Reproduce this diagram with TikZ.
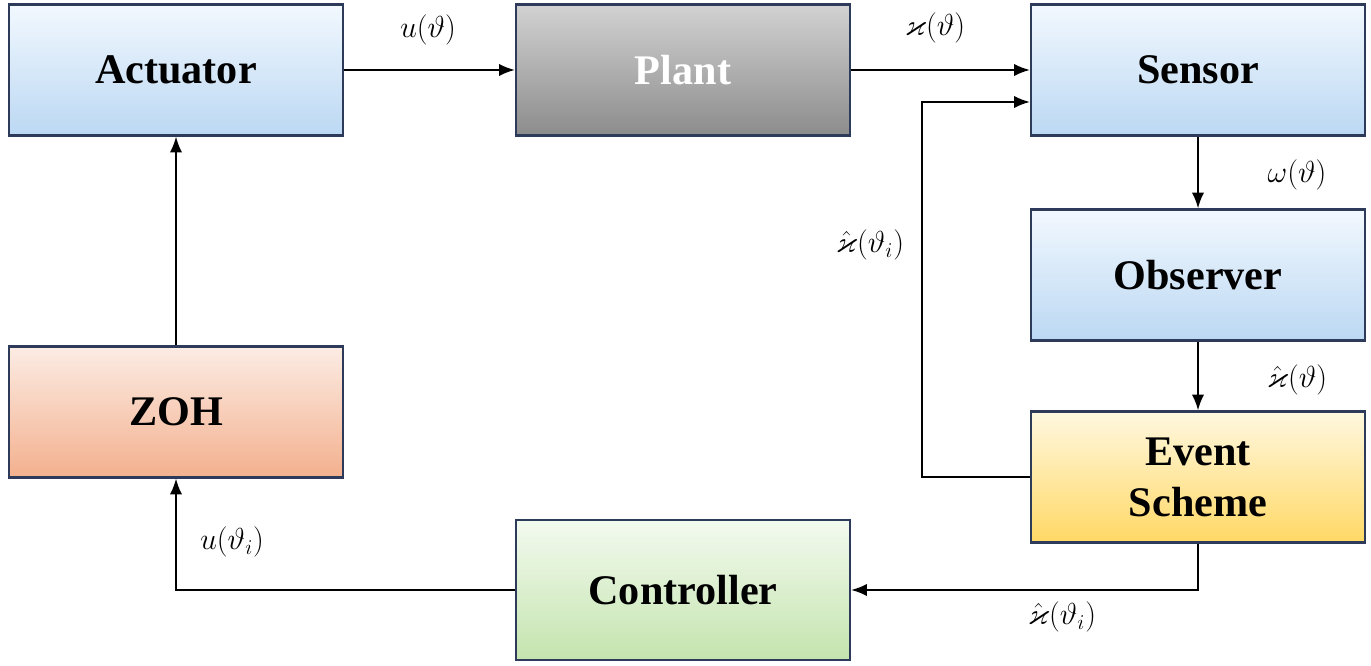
\documentclass[tikz,border=0pt]{standalone}
\usepackage{amsmath}
\usepackage{amssymb}
\usepackage{xcolor}
\usepackage{fontspec}
\setmainfont{Liberation Serif}
\usepackage{tikz}
\usetikzlibrary{positioning}
\usetikzlibrary{arrows.meta}
\usetikzlibrary{calc}

\definecolor{frame}{HTML}{2E3A59}
\definecolor{blueTop}{HTML}{F2F8FE}
\definecolor{blueBot}{HTML}{BBD8F3}
\definecolor{grayTop}{HTML}{D2D2D2}
\definecolor{grayBot}{HTML}{8C8C8C}
\definecolor{zohTop}{HTML}{FCECE4}
\definecolor{zohBot}{HTML}{F3B08E}
\definecolor{evtTop}{HTML}{FFF8E0}
\definecolor{evtBot}{HTML}{FFD865}
\definecolor{ctrlTop}{HTML}{F3FAEF}
\definecolor{ctrlBot}{HTML}{C4E4AE}

\begin{document}
\begin{tikzpicture}[
    box/.style={
        draw=frame,
        line width=1.3pt,
        minimum width=6.68cm,
        minimum height=2.62cm,
        align=center,
        font=\fontsize{24}{27}\selectfont\bfseries
    },
    bluebox/.style={box, top color=blueTop, bottom color=blueBot},
    conn/.style={
        draw=black,
        line width=1pt,
        -{Latex[length=9pt,width=7pt]}
    },
    lbl/.style={font=\fontsize{17}{19}\selectfont}
]

\useasboundingbox (0,0) rectangle (27.42,13.32);

% --- Top row
\node[bluebox] (actuator) at (3.52,11.92) {Actuator};
\node[box, top color=grayTop, bottom color=grayBot, text=white] (plant) at (13.66,11.92) {Plant};
\node[bluebox] (sensor) at (23.96,11.92) {Sensor};

% --- Right column
\node[bluebox] (observer) at (23.96,7.82) {Observer};
\node[box, top color=evtTop, bottom color=evtBot, font=\fontsize{24}{29}\selectfont\bfseries] (event) at (23.96,3.78) {Event\\Scheme};

% --- Left and bottom
\node[box, top color=zohTop, bottom color=zohBot] (zoh) at (3.52,5.08) {ZOH};
\node[box, top color=ctrlTop, bottom color=ctrlBot, minimum height=2.8cm] (controller) at (13.66,1.52) {Controller};

% --- Feedback corner
\coordinate (fbk) at (18.44,11.28);

% --- Connections
\draw[conn] (actuator) -- (plant);
\draw[conn] (plant) -- (sensor);
\draw[conn] (sensor) -- (observer);
\draw[conn] (observer) -- (event);
\draw[conn] (event.west) -| (fbk) -- (fbk -| sensor.west);
\draw[conn] (event.south) |- (controller.east);
\draw[conn] (controller.west) -| (zoh.south);
\draw[conn] (zoh) -- (actuator);

% --- Labels
\node[lbl] (lu) at (8.56,12.72) {$u(\vartheta)$};
\node[lbl] (lx) at (18.70,12.76) {$\varkappa(\vartheta)$};
\node[lbl] (lw) at (25.94,9.82) {$\omega(\vartheta)$};
\node[lbl] (lxhi) at (17.40,8.42) {$\hat{\varkappa}(\vartheta_i)$};
\node[lbl] (lxh) at (25.94,5.72) {$\hat{\varkappa}(\vartheta)$};
\node[lbl] (lxhb) at (21.24,0.98) {$\hat{\varkappa}(\vartheta_i)$};
\node[lbl] (lui) at (4.64,2.48) {$u(\vartheta_i)$};

\end{tikzpicture}
\end{document}
